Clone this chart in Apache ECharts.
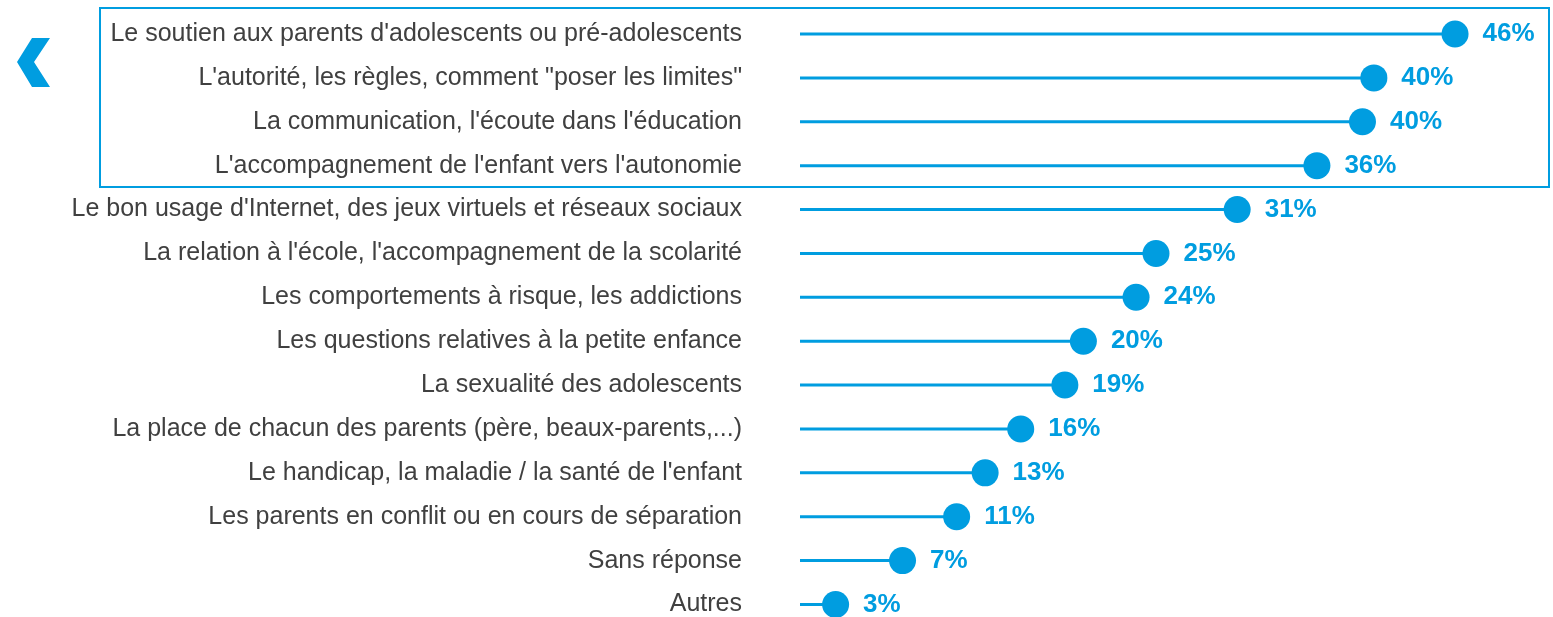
<!DOCTYPE html>
<html>
<head>
<meta charset="utf-8">
<style>
  html, body { margin: 0; padding: 0; background: #fff; }
  #chart { width: 1553px; height: 617px; }
</style>
<script src="https://cdn.jsdelivr.net/npm/echarts@6/dist/echarts.min.js"></script>
</head>
<body>
<div id="chart"></div>
<script>
// categories, top to bottom
var themes = [
  "Le soutien aux parents d'adolescents ou pré-adolescents",
  "L'autorité, les règles, comment \"poser les limites\"",
  "La communication, l'écoute dans l'éducation",
  "L'accompagnement de l'enfant vers l'autonomie",
  "Le bon usage d'Internet, des jeux virtuels et réseaux sociaux",
  "La relation à l'école, l'accompagnement de la scolarité",
  "Les comportements à risque, les addictions",
  "Les questions relatives à la petite enfance",
  "La sexualité des adolescents",
  "La place de chacun des parents (père, beaux-parents,...)",
  "Le handicap, la maladie / la santé de l'enfant",
  "Les parents en conflit ou en cours de séparation",
  "Sans réponse",
  "Autres"
];
// valeurs (%)
var values = [46.0, 40.3, 39.5, 36.3, 30.7, 25.0, 23.6, 19.9, 18.6, 15.5, 13.0, 11.0, 7.2, 2.5];
// étiquettes affichées (arrondies)
var shown = [46, 40, 40, 36, 31, 25, 24, 20, 19, 16, 13, 11, 7, 3];

(function () {
  var myChart = echarts.init(document.getElementById('chart'));
  var blue = '#009de0';
  var option = {
    animation: false,
    grid: {
      left: 800,
      top: 34,
      bottom: 11,
      width: 712
    },
    xAxis: {
      type: 'value',
      min: 0,
      max: 50,
      show: false
    },
    yAxis: {
      type: 'category',
      data: themes,
      inverse: true,
      boundaryGap: false,
      axisLine: { show: false },
      axisTick: { show: false },
      splitLine: { show: false },
      axisLabel: {
        color: '#404040',
        fontSize: 25,
        fontFamily: 'Liberation Sans, Arial, sans-serif',
        margin: 58
      }
    },
    graphic: [
      {
        // cadre autour des 4 premiers thèmes
        type: 'rect',
        shape: { x: 100, y: 8, width: 1449, height: 179 },
        style: { fill: 'none', stroke: blue, lineWidth: 2 }
      },
      {
        // chevron gauche
        type: 'polygon',
        shape: {
          points: [[17, 62], [32, 38], [50, 38], [34, 62], [50, 87], [32, 87]]
        },
        style: { fill: blue }
      }
    ],
    series: [
      {
        // tige
        type: 'bar',
        data: values,
        barWidth: 3,
        itemStyle: { color: blue },
        silent: true
      },
      {
        // point + étiquette
        type: 'scatter',
        data: values,
        symbol: 'circle',
        symbolSize: 27,
        itemStyle: { color: blue, opacity: 1 },
        label: {
          show: true,
          position: 'right',
          distance: 14,
          color: blue,
          fontSize: 26,
          fontWeight: 'bold',
          fontFamily: 'Liberation Sans, Arial, sans-serif',
          formatter: function (p) { return shown[p.dataIndex] + '%'; }
        }
      }
    ]
  };
  myChart.setOption(option);
  window.addEventListener('resize', () => myChart.resize());
})();
</script>
</body>
</html>
